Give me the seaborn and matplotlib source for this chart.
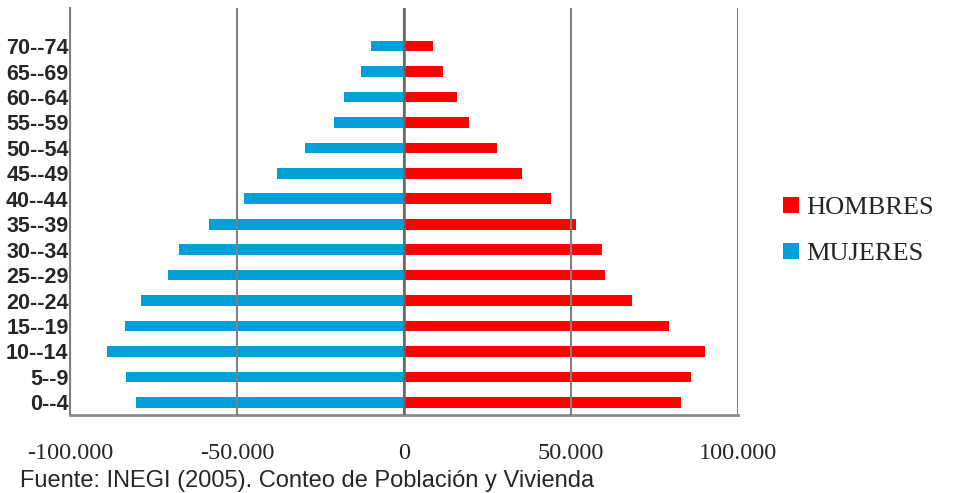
import pandas as pd
import seaborn as sns
import matplotlib.pyplot as plt
from matplotlib.ticker import FuncFormatter, MultipleLocator

# Age groups, top to bottom
ages = ['70--74', '65--69', '60--64', '55--59', '50--54', '45--49', '40--44',
        '35--39', '30--34', '25--29', '20--24', '15--19', '10--14', '5--9', '0--4']
hombres = [8600, 11600, 15800, 19600, 27700, 35300, 44000,
           51400, 59200, 60100, 68200, 79200, 90100, 85900, 82900]
mujeres = [9800, 13000, 18000, 21000, 29700, 38100, 47900,
           58300, 67400, 70600, 78800, 83400, 88800, 83100, 80100]
fuente = 'Fuente: INEGI (2005). Conteo de Población y Vivienda'

RED = '#FF0000'
BLUE = '#009FDA'


def miles(x, pos):
    v = int(round(x))
    s = f"{abs(v):,}".replace(',', '.')
    return ('-' + s) if v < 0 else s


def main():
    df = pd.DataFrame({
        'edad': ages * 2,
        'valor': hombres + [-m for m in mujeres],
        'sexo': ['HOMBRES'] * len(ages) + ['MUJERES'] * len(ages),
    })

    sns.set_style('white')
    plt.rcParams['font.family'] = ['Liberation Sans', 'DejaVu Sans']

    fig = plt.figure(figsize=(9.55, 4.93), dpi=100)
    ax = fig.add_axes([70 / 955, 1 - 415 / 493, (738 - 70) / 955, (415 - 8) / 493])

    sns.barplot(data=df, x='valor', y='edad', hue='sexo', order=ages,
                hue_order=['HOMBRES', 'MUJERES'], palette=[RED, BLUE],
                dodge=False, width=0.42, linewidth=0, saturation=1, ax=ax)

    ax.set_xlim(-100000, 100000)
    ax.set_ylim(14.5, -1.5)
    ax.xaxis.set_major_locator(MultipleLocator(50000))
    ax.xaxis.set_major_formatter(FuncFormatter(miles))
    ax.set_xlabel('')
    ax.set_ylabel('')

    # vertical grid, darker zero line
    ax.grid(axis='x', color='#808080', linewidth=1.5)
    ax.grid(axis='y', visible=False)
    ax.set_axisbelow(False)
    ax.axvline(0, color='#666666', linewidth=1.8, zorder=3)

    for s in ['top', 'right']:
        ax.spines[s].set_visible(False)
    ax.spines['left'].set_color('#808080')
    ax.spines['left'].set_linewidth(1.5)
    ax.spines['bottom'].set_color('#8c8c8c')
    ax.spines['bottom'].set_linewidth(2)

    ax.tick_params(axis='x', direction='out', length=5, width=1.5, color='#808080',
                   pad=15, labelsize=17.5)
    for lab in ax.get_xticklabels():
        lab.set_family(['Liberation Serif', 'DejaVu Serif'])
    ax.tick_params(axis='y', length=0, pad=1, labelsize=15.5)
    for lab in ax.get_yticklabels():
        lab.set_fontweight('bold')

    handles, labels = ax.get_legend_handles_labels()
    ax.get_legend().remove()
    fig.legend(handles, labels, loc='center left',
               bbox_to_anchor=(770 / 955, 1 - 231 / 493), frameon=False,
               borderpad=0, handlelength=0.58, handleheight=0.58,
               handletextpad=0.3, labelspacing=0.9,
               prop={'family': ['Liberation Serif', 'DejaVu Serif'], 'size': 19})

    fig.text(20 / 955, 1 - 481 / 493, fuente, ha='left', va='center', fontsize=17)

    fig.savefig('out.png', dpi=100)
    plt.close(fig)


if __name__ == '__main__':
    main()
